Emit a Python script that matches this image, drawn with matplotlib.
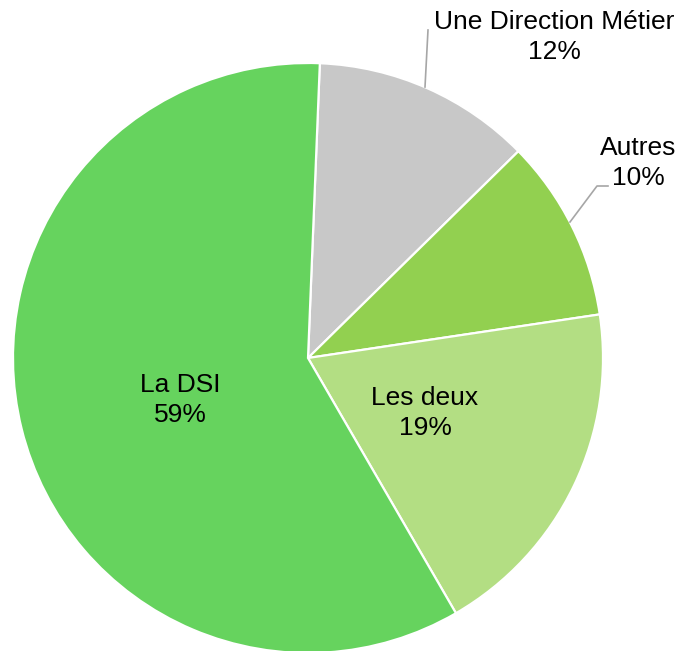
import matplotlib
matplotlib.use("Agg")
import matplotlib.pyplot as plt

categories = ["Une Direction Métier", "Autres", "Les deux", "La DSI"]
values = [12, 10, 19, 59]
colors = ["#C8C8C8", "#92D050", "#B3DE83", "#66D35E"]

plt.rcParams['font.family'] = ['Liberation Sans', 'DejaVu Sans']

W, H = 681, 651
fig = plt.figure(figsize=(W/100, H/100), dpi=100)
ax = fig.add_axes([0, 0, 1, 1])
ax.set_xlim(0, W)
ax.set_ylim(0, H)
ax.set_aspect('equal')
ax.axis('off')

cx, cy, r = 308, H - 358, 295
ax.pie(values, colors=colors, startangle=87.7, counterclock=False,
       center=(cx, cy), radius=r,
       wedgeprops=dict(edgecolor='white', linewidth=1.6))
ax.set_xlim(0, W)
ax.set_ylim(0, H)

fs = 19
def lab(x, y, i):
    ax.text(x, H - y, f"{categories[i]}\n{values[i]}%", ha='center', va='center',
            fontsize=fs, linespacing=1.3, color='black')

lab(554, 37, 0)
lab(638, 163, 1)
lab(425, 413, 2)
lab(180, 400, 3)

# leader lines
ax.plot([425, 428], [H - 87, H - 30], color='#A6A6A6', lw=1.2)
ax.plot([570, 597, 608], [H - 222, H - 186, H - 186], color='#A6A6A6', lw=1.2)

fig.savefig("out.png", dpi=100)
